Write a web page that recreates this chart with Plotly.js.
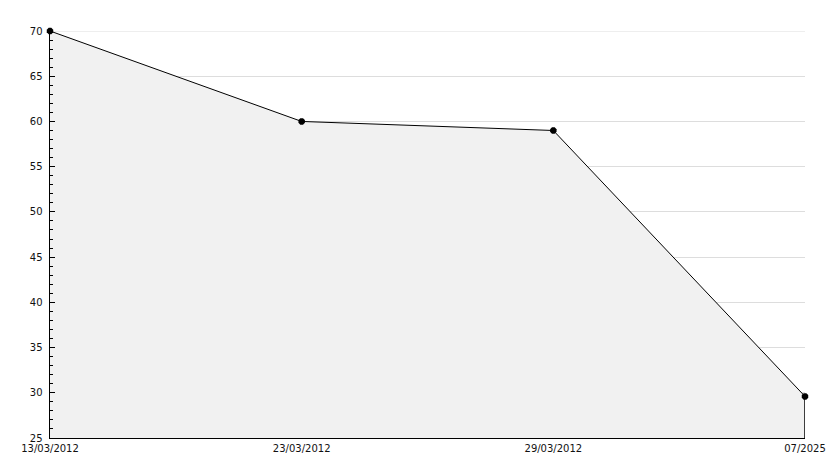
<!DOCTYPE html>
<html>
<head>
<meta charset="utf-8">
<script src="https://cdn.plot.ly/plotly-3.0.1.min.js"></script>
<style>html,body{margin:0;padding:0;background:#fff;}#chart{width:834px;height:468px;}</style>
</head>
<body>
<div id="chart"></div>
<script>
const categories = ["13/03/2012", "23/03/2012", "29/03/2012", "07/2025"];
const values = [70, 60, 59, 29.6];
const yMin = 25, yMax = 70;

const lastCat = categories[categories.length - 1];
const lastVal = values[values.length - 1];

const traces = [
  {
    type: 'scatter', mode: 'lines+markers',
    x: categories, y: values,
    fill: 'tozeroy', fillcolor: '#f1f1f1',
    line: {color: '#000', width: 1},
    marker: {color: '#000', size: 7, symbol: 'octagon'},
    cliponaxis: false, hoverinfo: 'skip'
  },
  {
    type: 'scatter', mode: 'lines',
    x: [lastCat, lastCat], y: [lastVal, yMin],
    line: {color: '#000', width: 1.5},
    hoverinfo: 'skip'
  }
];

const layout = {
  width: 834, height: 468,
  margin: {l: 50, r: 29, t: 31, b: 30},
  paper_bgcolor: '#fff', plot_bgcolor: '#fff',
  showlegend: false,
  font: {family: 'DejaVu Sans, Verdana, sans-serif', size: 10, color: '#111'},
  shapes: [
    {type: 'line', xref: 'paper', yref: 'y', x0: 0, x1: 1, y0: yMax, y1: yMax,
     line: {color: '#dddddd', width: 1}, layer: 'below'}
  ],
  xaxis: {
    type: 'category', range: [0, categories.length - 1],
    showgrid: false, zeroline: false,
    showline: true, linecolor: '#000', linewidth: 1,
    ticks: '', ticklabelstandoff: 1,
    tickfont: {size: 10}
  },
  yaxis: {
    range: [yMin, yMax], dtick: 5, tick0: 0,
    showgrid: true, gridcolor: '#dddddd', gridwidth: 1,
    zeroline: false,
    showline: true, linecolor: '#000', linewidth: 1.5,
    ticks: 'inside', ticklen: 5, tickcolor: '#000', tickwidth: 1,
    ticklabelstandoff: 4,
    tickfont: {size: 10},
    minor: {dtick: 1, ticks: 'inside', ticklen: 3, tickcolor: '#000', showgrid: false}
  }
};

Plotly.newPlot('chart', traces, layout, {displayModeBar: false, staticPlot: true});
</script>
</body>
</html>
